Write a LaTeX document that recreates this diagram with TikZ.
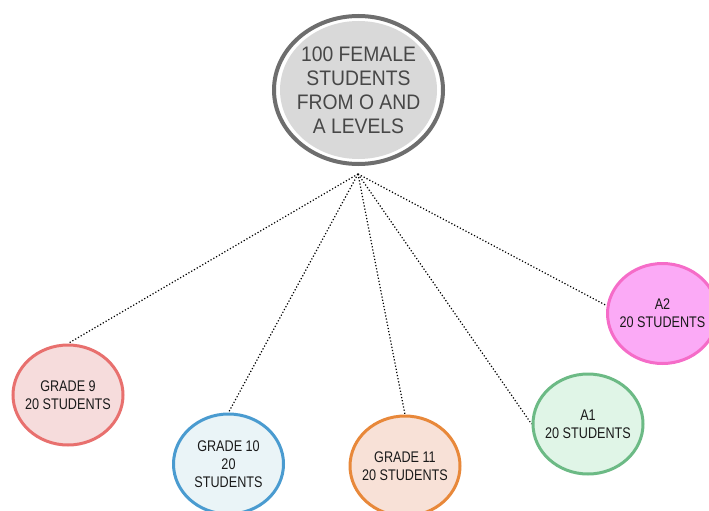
\documentclass[tikz,border=0pt]{standalone}
\usepackage{fontspec}
\setmainfont{Liberation Sans}
\newfontfamily\smallf[FakeStretch=0.82]{Liberation Sans}
\newfontfamily\bigf[FakeStretch=0.92]{Liberation Sans}
\usetikzlibrary{shapes.geometric}
\definecolor{ringgray}{HTML}{6E6E6E}
\definecolor{fillgray}{HTML}{D9D9D9}
\definecolor{maintext}{HTML}{474747}
\definecolor{nodetext}{HTML}{1A1A1A}
\definecolor{g9fill}{HTML}{F6DCDC}
\definecolor{g9draw}{HTML}{E8706E}
\definecolor{g10fill}{HTML}{EAF4F7}
\definecolor{g10draw}{HTML}{4A9BD0}
\definecolor{g11fill}{HTML}{F8E1D7}
\definecolor{g11draw}{HTML}{E8883A}
\definecolor{a1fill}{HTML}{E0F5E7}
\definecolor{a1draw}{HTML}{6CBA85}
\definecolor{a2fill}{HTML}{FBAAF6}
\definecolor{a2draw}{HTML}{F56CC8}
\tikzset{
  grp/.style={ellipse, inner sep=0pt, line width=3pt, minimum width=110pt, minimum height=100pt},
  grptext/.style={align=center, inner sep=0pt, text=nodetext, font=\smallf\fontsize{15.4}{18}\selectfont},
  link/.style={dotted, line width=1.2pt, black}
}
\begin{document}
\begin{tikzpicture}[x=1pt,y=-1pt]
\useasboundingbox (0,0) rectangle (709,511);
% central node
\node[ellipse, draw=ringgray, line width=4pt, fill=white, inner sep=0pt,
      minimum width=169pt, minimum height=148pt] (c) at (358.5,90) {};
\fill[fillgray] (c.center) ellipse [x radius=78.5pt, y radius=69pt];
\node[align=center, inner sep=0pt, text=maintext, font=\bigf\fontsize{21}{24}\selectfont] (ct) at (358.5,90)
  {100 FEMALE\\STUDENTS\\FROM O AND\\A LEVELS};
\coordinate (hub) at (358,174);
% group nodes
\node[grp, draw=g9draw, fill=g9fill] (g9) at (68,395) {};
\node[grptext] (g9t) at (g9.center) {GRADE 9\\20 STUDENTS};
\node[grp, draw=g10draw, fill=g10fill] (g10) at (228.5,464) {};
\node[grptext] (g10t) at (g10.center) {GRADE 10\\20\\STUDENTS};
\node[grp, draw=g11draw, fill=g11fill] (g11) at (405,466) {};
\node[grptext] (g11t) at (g11.center) {GRADE 11\\20 STUDENTS};
\node[grp, draw=a1draw, fill=a1fill] (a1) at (588,424) {};
\node[grptext] (a1t) at (a1.center) {A1\\20 STUDENTS};
\node[grp, draw=a2draw, fill=a2fill] (a2) at (662.5,313.5) {};
\node[grptext] (a2t) at (a2.center) {A2\\20 STUDENTS};
% connectors
\draw[link] (hub) -- (g9.north);
\draw[link] (hub) -- (g10.north);
\draw[link] (hub) -- (g11.north);
\draw[link] (hub) -- (a1.west);
\draw[link] (hub) -- (a2.172);
\end{tikzpicture}
\end{document}
